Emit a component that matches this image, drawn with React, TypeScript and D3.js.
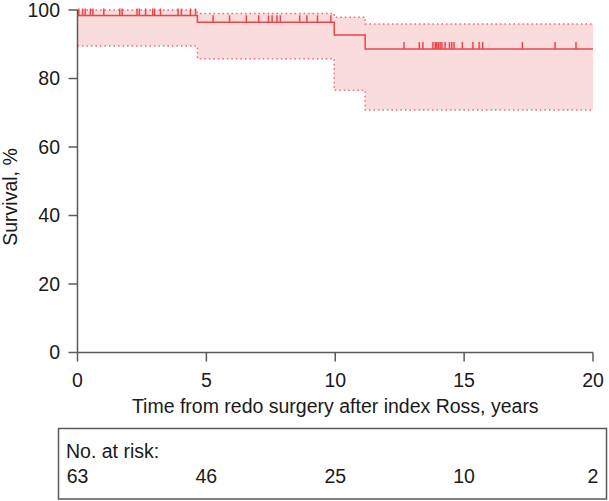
import React from "react";
import * as d3 from "d3";

const timeTicks = [0, 5, 10, 15, 20];
const survivalTicks = [0, 20, 40, 60, 80, 100];
const atRisk = [63, 46, 25, 10, 2];
const stepTimes = [0, 4.65, 9.96, 11.16];
const survival = [98.4, 96.4, 92.7, 88.6];
const upperCI = [100, 99.0, 97.9, 95.9];
const lowerCI = [89.5, 85.8, 76.6, 70.8];
const endTime = 20;
const censorTimes = [
  0.05, 0.2, 0.3, 0.5, 0.6, 1.02, 1.64, 1.73, 2.31, 2.4, 2.64, 2.92, 2.99, 3.22, 3.9, 4.03, 4.38, 4.58,
  5.26, 5.9, 6.55, 7.03, 7.41, 7.55, 7.74, 7.87, 8.62, 8.9, 9.31, 9.83,
  12.67, 13.26, 13.4, 13.79, 13.88, 13.94, 14.0, 14.07, 14.14, 14.26, 14.43, 14.52, 14.61, 14.93,
  15.34, 15.58, 15.72, 17.26, 18.53, 19.34,
];

const FONT = "'Liberation Sans', Arial, Helvetica, sans-serif";
const AXIS = "#5a5a5a";
const RED = "#e9464c";
const PINK = "#fadcdc";
const DOT = "#f0676c";
const FS = 19.5;

export default function App() {
  const x = d3.scaleLinear().domain([0, 20]).range([77.5, 593]);
  const y = d3.scaleLinear().domain([0, 100]).range([352.5, 10]);

  const stepPts = (vals: number[]) => {
    const pts: [number, number][] = stepTimes.map((t, i) => [t, vals[i]]);
    pts.push([endTime, vals[vals.length - 1]]);
    return pts;
  };
  const line = d3
    .line<[number, number]>()
    .x((d) => x(d[0]))
    .y((d) => y(d[1]))
    .curve(d3.curveStepAfter);

  const bandData = stepTimes.map((t, i) => ({ t, lo: lowerCI[i], hi: upperCI[i] }));
  bandData.push({ t: endTime, lo: lowerCI[lowerCI.length - 1], hi: upperCI[upperCI.length - 1] });
  const area = d3
    .area<{ t: number; lo: number; hi: number }>()
    .x((d) => x(d.t))
    .y0((d) => y(d.lo))
    .y1((d) => y(d.hi))
    .curve(d3.curveStepAfter);

  const survAt = (t: number) => {
    let v = survival[0];
    stepTimes.forEach((s, i) => {
      if (t >= s) v = survival[i];
    });
    return v;
  };

  return (
    <svg
      width={609}
      height={501}
      style={{ position: "absolute", left: 0, top: 0, background: "#fff" }}
      fontFamily={FONT}
    >
      <path d={area(bandData) || ""} fill={PINK} stroke="none" />
      <path d={line(stepPts(upperCI)) || ""} fill="none" stroke={DOT} strokeWidth={1.5} strokeDasharray="1.5,3" />
      <path d={line(stepPts(lowerCI)) || ""} fill="none" stroke={DOT} strokeWidth={1.5} strokeDasharray="1.5,3" />
      <path d={line(stepPts(survival)) || ""} fill="none" stroke={RED} strokeWidth={1.5} />
      {censorTimes.map((t, i) => (
        <line
          key={i}
          x1={x(t)}
          x2={x(t)}
          y1={y(survAt(t))}
          y2={y(survAt(t)) - 7}
          stroke={RED}
          strokeWidth={1.5}
        />
      ))}

      {/* axes */}
      <line x1={x(0)} x2={x(0)} y1={y(100)} y2={y(0)} stroke={AXIS} strokeWidth={1.5} />
      <line x1={x(0)} x2={x(20)} y1={y(0)} y2={y(0)} stroke={AXIS} strokeWidth={1.5} />
      {survivalTicks.map((v) => (
        <g key={v}>
          <line x1={x(0) - 9} x2={x(0)} y1={y(v)} y2={y(v)} stroke={AXIS} strokeWidth={1.5} />
          <text x={60} y={y(v)} dy="0.35em" textAnchor="end" fontSize={FS} fill="#1a1a1a">
            {v}
          </text>
        </g>
      ))}
      {timeTicks.map((t) => (
        <g key={t}>
          <line x1={x(t)} x2={x(t)} y1={y(0)} y2={y(0) + 9} stroke={AXIS} strokeWidth={1.5} />
          <text x={x(t)} y={386.5} textAnchor="middle" fontSize={FS} fill="#1a1a1a">
            {t}
          </text>
        </g>
      ))}
      <text x={x(10)} y={413} textAnchor="middle" fontSize={FS} fill="#1a1a1a">
        Time from redo surgery after index Ross, years
      </text>
      <text
        transform={`translate(17,197) rotate(-90)`}
        textAnchor="middle"
        fontSize={FS}
        fill="#1a1a1a"
      >
        Survival, %
      </text>

      {/* risk table */}
      <rect x={58.5} y={428.5} width={548} height={70.5} fill="none" stroke={AXIS} strokeWidth={1.5} />
      <text x={66} y={458} fontSize={FS} fill="#1a1a1a">
        No. at risk:
      </text>
      {atRisk.map((n, i) => (
        <text key={i} x={x(timeTicks[i])} y={482.5} textAnchor="middle" fontSize={FS} fill="#1a1a1a">
          {n}
        </text>
      ))}
    </svg>
  );
}
